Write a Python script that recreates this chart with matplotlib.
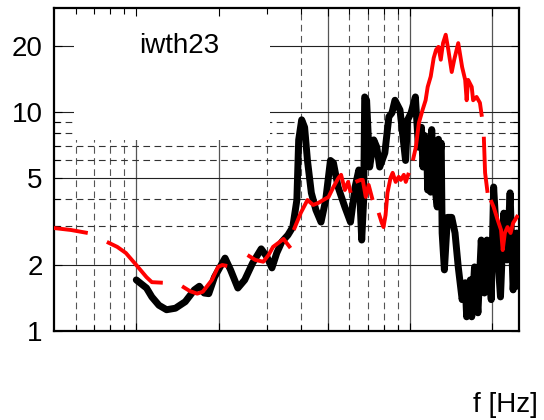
import numpy as np
import matplotlib
matplotlib.use("agg")
import matplotlib.pyplot as plt
from matplotlib.patches import Rectangle
from matplotlib.ticker import FixedLocator, NullFormatter

plt.rcParams["font.family"] = ["Liberation Sans", "DejaVu Sans"]

# black trace (frequency in Hz, amplitude)
black_f = [10.0, 10.9, 11.4, 12.1, 12.9, 13.9, 15.1, 16.3, 17.0, 17.7, 18.4, 19.3,
           21.1, 22.1, 23.5, 24.9, 26.6, 28.6, 30.0, 31.3, 32.6, 34.0, 35.8, 37.3,
           38.6, 39.2, 40.2, 41.2, 42.2, 43.6, 45.3, 47.3, 49.2, 51.2, 52.5, 54.6,
           57.8, 60.6, 63.0, 65.0, 66.6, 67.7, 68.3, 69.4, 71.2, 73.7, 75.6, 77.5,
           80.9, 83.7, 85.9, 88.1, 91.9, 96.3, 98.0, 100.9, 104.6, 107.3, 110.1,
           111.5, 113, 115, 116, 117.5, 119, 120, 121.5, 123, 124, 125.7, 127, 128.5,
           130, 131, 133.5, 137, 142, 146, 150, 155,
           159, 161, 166, 168, 172, 177, 182, 187, 191, 198, 202, 208, 214, 220,
           226, 232, 238, 245, 248]
black_a = [1.71, 1.57, 1.43, 1.31, 1.25, 1.27, 1.36, 1.54, 1.60, 1.49, 1.48, 1.76,
           2.15, 1.90, 1.57, 1.71, 2.04, 2.37, 2.18, 1.94, 2.27, 2.55, 2.74, 2.98,
           3.96, 7.45, 9.2, 8.5, 6.0, 4.27, 3.57, 3.14, 3.96, 6.0, 5.85, 4.54,
           3.68, 3.14, 4.54, 5.43, 2.6, 3.96, 11.7, 11.3, 5.6, 7.45, 6.9, 5.6,
           6.5, 9.5, 9.9, 11.3, 10.2, 6.0, 9.2, 9.9, 11.7, 6.9, 8.5,
           5.6, 7.8, 6.9, 4.4, 7.6, 4.3, 8.3, 5.0, 7.0, 4.27, 3.68, 7.5, 6.2,
           7.2, 2.8, 1.90, 3.3, 3.3, 2.8, 1.96, 1.39,
           1.66, 1.16, 1.71, 1.16, 1.96, 1.21, 2.6, 1.49, 2.6, 1.39, 4.54, 2.42, 1.43, 3.45,
           2.11, 4.27, 1.54, 2.8, 1.6]

# red trace, nan marks the breaks in the line
red_f = [5.0, 5.77, 6.65, np.nan,
         7.81, 8.52, 9.16, 10.0, 10.9, 11.4, 12.5, np.nan,
         14.7, 15.7, 16.7, 17.5, 18.9, 19.9, 20.6, 21.5, np.nan,
         25.5, 27.2, 29.1, 30.4, 31.6, 33.0, 34.5, 36.6, np.nan,
         37.6, 39.9, 42.2, 44.3, 46.2, 48.2, 50.4, 52.5, 54.8, 56.0, 57.8, 59.4, 60.7, np.nan,
         63.2, 66.0, 67.2, 68.9, 70.6, 73.0, np.nan,
         76.8, 78.7, 80.0, 81.4, 82.7, 84.9, 86.4, 88.6, 90.9, 92.5, 94.9, 96.5, 99.0, np.nan,
         102.4, 105, 107.7, 111.1, 114, 116, 119, 122, 124.5, 127, 129.5, 132, 135,
         138, 142, 145, 150, 155, 159, 161, 163, 168, 170, 175, 180, 183, np.nan,
         186, 188, 192, np.nan,
         197, 202, 209, 215, 218, 222, 227, 233, 238, 248]
red_a = [2.95, 2.89, 2.80, np.nan,
         2.55, 2.42, 2.27, 2.0, 1.76, 1.67, 1.66, np.nan,
         1.60, 1.52, 1.48, 1.51, 1.71, 1.96, 2.0, 1.98, np.nan,
         2.22, 2.11, 2.07, 2.22, 2.42, 2.52, 2.63, 2.39, np.nan,
         2.89, 3.46, 3.96, 3.76, 3.84, 3.96, 4.09, 4.54, 5.0, 5.16, 4.40, 4.79, 4.27, np.nan,
         4.79, 4.89, 4.89, 4.09, 4.64, 3.96, np.nan,
         3.46, 3.14, 2.98, 3.38, 4.27, 5.0, 5.27, 4.79, 5.05, 4.89, 5.16, 4.79, 5.27, np.nan,
         6.0, 6.9, 8.9, 10.2, 11.3, 13.0, 14.5, 17.6, 19.2, 19.8, 17.3, 20.6, 22.5,
         19.2, 15.2, 17.3, 20.6, 16.0, 14.0, 11.3, 14.0, 13.0, 11.3, 11.7, 11.0, 9.5, np.nan,
         7.7, 5.27, 4.27, np.nan,
         3.96, 3.68, 3.21, 2.89, 2.34, 2.8, 2.98, 2.8, 3.11, 3.38]

x_solid = [10, 20, 50, 100, 200]
x_dashed = [6, 7, 8, 9, 30, 40, 60, 70, 80, 90]
y_solid = [2, 5, 10, 20]
y_dashed = [3, 4, 6, 7, 8, 9]
y_ticks = [1, 2, 5, 10, 20]

fig = plt.figure(figsize=(5.44, 4.2), dpi=100)
ax = fig.add_axes([0.099, 0.212, 0.855, 0.769])
ax.set_xscale("log")
ax.set_yscale("log")
ax.set_xlim(5, 250)
ax.set_ylim(1, 29.8)

for v in x_solid:
    ax.axvline(v, color="#555555", lw=0.9, zorder=1)
for v in x_dashed:
    ax.axvline(v, color="#555555", lw=0.8, ls=(0, (6, 4)), zorder=1)
for v in y_solid:
    ax.axhline(v, color="#222222", lw=0.8, zorder=1)
for v in y_dashed:
    ax.axhline(v, color="#333333", lw=0.8, ls=(0, (6, 4)), zorder=1)

# white box behind the label
ax.add_patch(Rectangle((0.044, 0.591), 0.42, 0.409, transform=ax.transAxes,
                       facecolor="white", edgecolor="none", zorder=1.5))

ax.plot(black_f, black_a, color="black", lw=5.0, solid_joinstyle="round",
        solid_capstyle="round", zorder=2)
ax.plot(red_f, red_a, color="#ff0000", lw=2.8, solid_joinstyle="round",
        solid_capstyle="butt", zorder=3)

ax.text(0.183, 0.861, "iwth23", transform=ax.transAxes, fontsize=20,
        ha="left", va="baseline", zorder=4)
fig.text(0.989, 0.019, "f [Hz]", fontsize=20, ha="right", va="baseline")

ax.xaxis.set_major_locator(FixedLocator(x_solid))
ax.xaxis.set_minor_locator(FixedLocator(x_dashed))
ax.xaxis.set_major_formatter(NullFormatter())
ax.xaxis.set_minor_formatter(NullFormatter())
ax.yaxis.set_major_locator(FixedLocator(y_ticks))
ax.yaxis.set_minor_locator(FixedLocator(y_dashed))
ax.set_yticklabels([str(v) for v in y_ticks])
ax.yaxis.set_minor_formatter(NullFormatter())
ax.tick_params(which="both", direction="in", top=True, right=True, width=0.8)
ax.tick_params(which="major", length=6, labelsize=20, pad=8)
ax.tick_params(which="minor", length=4)
for s in ax.spines.values():
    s.set_linewidth(1.6)

fig.savefig("out.png", dpi=100)
